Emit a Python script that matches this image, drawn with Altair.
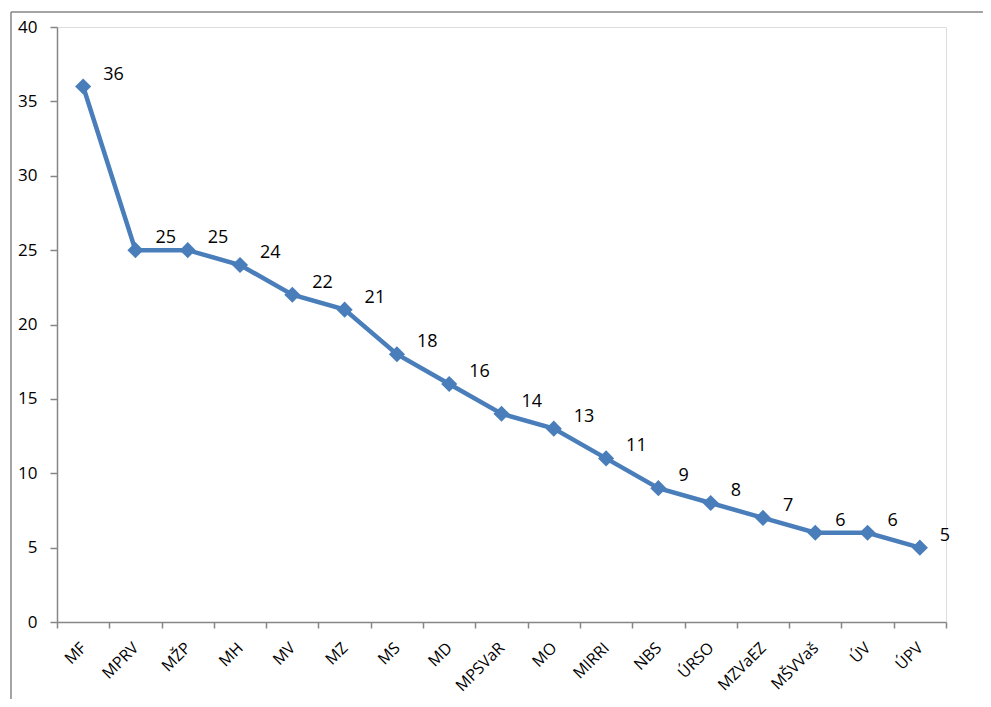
import altair as alt
import pandas as pd

categories = ["MF", "MPRV", "MŽP", "MH", "MV", "MZ", "MS", "MD", "MPSVaR", "MO",
              "MIRRI", "NBS", "ÚRSO", "MZVaEZ", "MŠVVaš", "ÚV", "ÚPV"]
values = [36, 25, 25, 24, 22, 21, 18, 16, 14, 13, 11, 9, 8, 7, 6, 6, 5]

df = pd.DataFrame({"cat": categories, "val": values})

BLUE = "#4A7EBB"
GRAY = "#868686"
FONT = "Open Sans"

x = alt.X("cat:N", sort=categories, title=None,
          scale=alt.Scale(paddingInner=0, paddingOuter=0),
          axis=alt.Axis(labelAngle=-45, labelAlign="right", labelBaseline="middle",
                        labelPadding=17, tickBand="extent", tickSize=6,
                        labelFontSize=16, labelFont=FONT, labelColor="#000000",
                        domainColor=GRAY, tickColor=GRAY, domainWidth=1.5, tickWidth=1.5,
                        grid=False))
y = alt.Y("val:Q", title=None,
          scale=alt.Scale(domain=[0, 40], nice=False),
          axis=alt.Axis(values=[0, 5, 10, 15, 20, 25, 30, 35, 40], tickSize=7,
                        labelPadding=13, labelFontSize=17, labelFont=FONT,
                        labelColor="#000000", domainColor=GRAY, tickColor=GRAY,
                        domainWidth=1.5, tickWidth=1.5, grid=False))

base = alt.Chart(df).encode(x=x, y=y)

line = base.mark_line(color=BLUE, strokeWidth=4.5)
pts = base.mark_point(shape="diamond", filled=True, color=BLUE, size=260, opacity=1)
labels = base.mark_text(align="left", baseline="middle", dx=20, dy=-12,
                        fontSize=18, font=FONT, color="#000000").encode(text="val:Q")

one = pd.DataFrame({"a": [0]})
frame_left = alt.Chart(one).mark_rule(color=GRAY, strokeWidth=1.5).encode(
    x=alt.value(-46), y=alt.value(-15), y2=alt.value(800))
frame_top = alt.Chart(one).mark_rule(color=GRAY, strokeWidth=1.5).encode(
    x=alt.value(-46), x2=alt.value(1000), y=alt.value(-15))

chart = alt.layer(frame_left, frame_top, line, pts, labels).properties(
    width=889, height=595,
    autosize=alt.AutoSizeParams(type="none"),
    padding={"left": 49, "top": 19, "right": 37, "bottom": 77},
).configure_view(stroke=None).configure(background="#ffffff")

chart.save("out.html", embed_options={"renderer": "svg", "actions": False})
